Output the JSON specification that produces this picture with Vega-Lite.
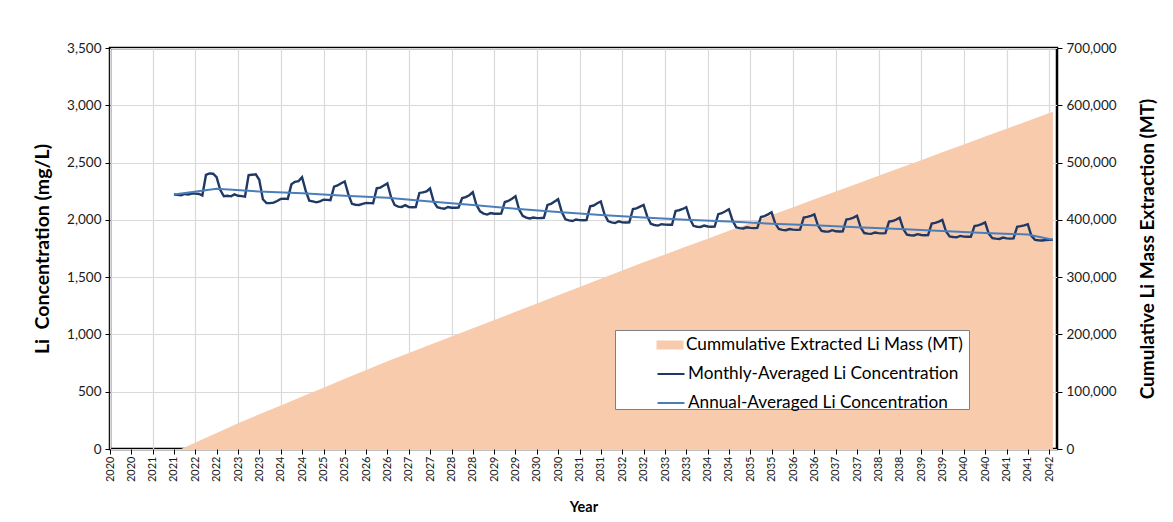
{
  "$schema": "https://vega.github.io/schema/vega-lite/v6.json",
  "width": 947,
  "height": 401,
  "autosize": {"type": "none"},
  "padding": {"left": 110, "top": 48, "right": 116, "bottom": 73},
  "background": "white",
  "datasets": {
    "cum": [
      {"date": "2020-01-01", "mass": 0}, {"date": "2021-09-01", "mass": 0},
      {"date": "2022-01-01", "mass": 11200}, {"date": "2022-07-01", "mass": 28000},
      {"date": "2023-01-01", "mass": 45000}, {"date": "2023-07-01", "mass": 60500},
      {"date": "2024-01-01", "mass": 76000}, {"date": "2024-07-01", "mass": 91500},
      {"date": "2025-01-01", "mass": 107000}, {"date": "2025-07-01", "mass": 122500},
      {"date": "2026-01-01", "mass": 138000}, {"date": "2026-07-01", "mass": 153000},
      {"date": "2027-01-01", "mass": 167500}, {"date": "2027-07-01", "mass": 181800},
      {"date": "2028-01-01", "mass": 196200}, {"date": "2028-07-01", "mass": 210600},
      {"date": "2029-01-01", "mass": 225000}, {"date": "2029-07-01", "mass": 239400},
      {"date": "2030-01-01", "mass": 253800}, {"date": "2030-07-01", "mass": 268200},
      {"date": "2031-01-01", "mass": 282600}, {"date": "2031-07-01", "mass": 297000},
      {"date": "2032-01-01", "mass": 311400}, {"date": "2032-07-01", "mass": 325800},
      {"date": "2033-01-01", "mass": 339500}, {"date": "2033-07-01", "mass": 353300},
      {"date": "2034-01-01", "mass": 367000}, {"date": "2034-07-01", "mass": 380800},
      {"date": "2035-01-01", "mass": 394500}, {"date": "2035-07-01", "mass": 408300},
      {"date": "2036-01-01", "mass": 422000}, {"date": "2036-07-01", "mass": 435800},
      {"date": "2037-01-01", "mass": 449500}, {"date": "2037-07-01", "mass": 463200},
      {"date": "2038-01-01", "mass": 476900}, {"date": "2038-07-01", "mass": 490600},
      {"date": "2039-01-01", "mass": 504200}, {"date": "2039-07-01", "mass": 517900},
      {"date": "2040-01-01", "mass": 531600}, {"date": "2040-07-01", "mass": 545300},
      {"date": "2041-01-01", "mass": 559000}, {"date": "2041-07-01", "mass": 572700},
      {"date": "2042-01-01", "mass": 586400}, {"date": "2042-02-01", "mass": 588700}
    ],
    "annual": [
      {"date": "2021-07-01", "conc": 2221}, {"date": "2022-07-01", "conc": 2271},
      {"date": "2023-07-01", "conc": 2247}, {"date": "2024-07-01", "conc": 2232},
      {"date": "2025-07-01", "conc": 2211}, {"date": "2026-07-01", "conc": 2192},
      {"date": "2027-07-01", "conc": 2160}, {"date": "2028-07-01", "conc": 2130},
      {"date": "2029-07-01", "conc": 2097}, {"date": "2030-07-01", "conc": 2068},
      {"date": "2031-07-01", "conc": 2043}, {"date": "2032-07-01", "conc": 2020},
      {"date": "2033-07-01", "conc": 2002}, {"date": "2034-07-01", "conc": 1985},
      {"date": "2035-07-01", "conc": 1966}, {"date": "2036-07-01", "conc": 1952},
      {"date": "2037-07-01", "conc": 1936}, {"date": "2038-07-01", "conc": 1920},
      {"date": "2039-07-01", "conc": 1903}, {"date": "2040-07-01", "conc": 1886},
      {"date": "2041-07-01", "conc": 1872}, {"date": "2042-02-01", "conc": 1826}
    ],
    "monthly": [
      {"date": "2021-07-01", "conc": 2221}, {"date": "2021-08-01", "conc": 2218}, {"date": "2021-09-01", "conc": 2215}, {"date": "2021-10-01", "conc": 2226}, {"date": "2021-11-01", "conc": 2221}, {"date": "2021-12-01", "conc": 2230},
      {"date": "2022-01-01", "conc": 2229}, {"date": "2022-02-01", "conc": 2226}, {"date": "2022-03-01", "conc": 2212}, {"date": "2022-04-01", "conc": 2392}, {"date": "2022-05-01", "conc": 2405}, {"date": "2022-06-01", "conc": 2403}, {"date": "2022-07-01", "conc": 2372}, {"date": "2022-08-01", "conc": 2262}, {"date": "2022-09-01", "conc": 2206}, {"date": "2022-10-01", "conc": 2210}, {"date": "2022-11-01", "conc": 2205}, {"date": "2022-12-01", "conc": 2222},
      {"date": "2023-01-01", "conc": 2210}, {"date": "2023-02-01", "conc": 2207}, {"date": "2023-03-01", "conc": 2203}, {"date": "2023-04-01", "conc": 2390}, {"date": "2023-05-01", "conc": 2394}, {"date": "2023-06-01", "conc": 2397}, {"date": "2023-07-01", "conc": 2350}, {"date": "2023-08-01", "conc": 2180}, {"date": "2023-09-01", "conc": 2147}, {"date": "2023-10-01", "conc": 2146}, {"date": "2023-11-01", "conc": 2150}, {"date": "2023-12-01", "conc": 2165},
      {"date": "2024-01-01", "conc": 2183}, {"date": "2024-02-01", "conc": 2185}, {"date": "2024-03-01", "conc": 2183}, {"date": "2024-04-01", "conc": 2310}, {"date": "2024-05-01", "conc": 2332}, {"date": "2024-06-01", "conc": 2338}, {"date": "2024-07-01", "conc": 2372}, {"date": "2024-08-01", "conc": 2255}, {"date": "2024-09-01", "conc": 2168}, {"date": "2024-10-01", "conc": 2162}, {"date": "2024-11-01", "conc": 2153}, {"date": "2024-12-01", "conc": 2162},
      {"date": "2025-01-01", "conc": 2176}, {"date": "2025-02-01", "conc": 2174}, {"date": "2025-03-01", "conc": 2172}, {"date": "2025-04-01", "conc": 2290}, {"date": "2025-05-01", "conc": 2300}, {"date": "2025-06-01", "conc": 2320}, {"date": "2025-07-01", "conc": 2335}, {"date": "2025-08-01", "conc": 2225}, {"date": "2025-09-01", "conc": 2140}, {"date": "2025-10-01", "conc": 2132}, {"date": "2025-11-01", "conc": 2130}, {"date": "2025-12-01", "conc": 2140},
      {"date": "2026-01-01", "conc": 2148}, {"date": "2026-02-01", "conc": 2146}, {"date": "2026-03-01", "conc": 2145}, {"date": "2026-04-01", "conc": 2275}, {"date": "2026-05-01", "conc": 2282}, {"date": "2026-06-01", "conc": 2300}, {"date": "2026-07-01", "conc": 2318}, {"date": "2026-08-01", "conc": 2200}, {"date": "2026-09-01", "conc": 2130}, {"date": "2026-10-01", "conc": 2115}, {"date": "2026-11-01", "conc": 2113}, {"date": "2026-12-01", "conc": 2128},
      {"date": "2027-01-01", "conc": 2112}, {"date": "2027-02-01", "conc": 2110}, {"date": "2027-03-01", "conc": 2112}, {"date": "2027-04-01", "conc": 2235}, {"date": "2027-05-01", "conc": 2240}, {"date": "2027-06-01", "conc": 2248}, {"date": "2027-07-01", "conc": 2274}, {"date": "2027-08-01", "conc": 2160}, {"date": "2027-09-01", "conc": 2110}, {"date": "2027-10-01", "conc": 2103}, {"date": "2027-11-01", "conc": 2097}, {"date": "2027-12-01", "conc": 2112},
      {"date": "2028-01-01", "conc": 2106}, {"date": "2028-02-01", "conc": 2106}, {"date": "2028-03-01", "conc": 2108}, {"date": "2028-04-01", "conc": 2190}, {"date": "2028-05-01", "conc": 2198}, {"date": "2028-06-01", "conc": 2215}, {"date": "2028-07-01", "conc": 2241}, {"date": "2028-08-01", "conc": 2130}, {"date": "2028-09-01", "conc": 2074}, {"date": "2028-10-01", "conc": 2055}, {"date": "2028-11-01", "conc": 2046}, {"date": "2028-12-01", "conc": 2059},
      {"date": "2029-01-01", "conc": 2053}, {"date": "2029-02-01", "conc": 2053}, {"date": "2029-03-01", "conc": 2055}, {"date": "2029-04-01", "conc": 2156}, {"date": "2029-05-01", "conc": 2165}, {"date": "2029-06-01", "conc": 2185}, {"date": "2029-07-01", "conc": 2206}, {"date": "2029-08-01", "conc": 2090}, {"date": "2029-09-01", "conc": 2035}, {"date": "2029-10-01", "conc": 2020}, {"date": "2029-11-01", "conc": 2012}, {"date": "2029-12-01", "conc": 2020},
      {"date": "2030-01-01", "conc": 2015}, {"date": "2030-02-01", "conc": 2016}, {"date": "2030-03-01", "conc": 2018}, {"date": "2030-04-01", "conc": 2130}, {"date": "2030-05-01", "conc": 2140}, {"date": "2030-06-01", "conc": 2160}, {"date": "2030-07-01", "conc": 2180}, {"date": "2030-08-01", "conc": 2070}, {"date": "2030-09-01", "conc": 2005}, {"date": "2030-10-01", "conc": 1995}, {"date": "2030-11-01", "conc": 1990}, {"date": "2030-12-01", "conc": 2003},
      {"date": "2031-01-01", "conc": 1998}, {"date": "2031-02-01", "conc": 1997}, {"date": "2031-03-01", "conc": 1998}, {"date": "2031-04-01", "conc": 2118}, {"date": "2031-05-01", "conc": 2125}, {"date": "2031-06-01", "conc": 2145}, {"date": "2031-07-01", "conc": 2160}, {"date": "2031-08-01", "conc": 2050}, {"date": "2031-09-01", "conc": 1990}, {"date": "2031-10-01", "conc": 1978}, {"date": "2031-11-01", "conc": 1972}, {"date": "2031-12-01", "conc": 1988},
      {"date": "2032-01-01", "conc": 1978}, {"date": "2032-02-01", "conc": 1977}, {"date": "2032-03-01", "conc": 1978}, {"date": "2032-04-01", "conc": 2095}, {"date": "2032-05-01", "conc": 2100}, {"date": "2032-06-01", "conc": 2115}, {"date": "2032-07-01", "conc": 2130}, {"date": "2032-08-01", "conc": 2030}, {"date": "2032-09-01", "conc": 1965}, {"date": "2032-10-01", "conc": 1955}, {"date": "2032-11-01", "conc": 1950}, {"date": "2032-12-01", "conc": 1962},
      {"date": "2033-01-01", "conc": 1958}, {"date": "2033-02-01", "conc": 1957}, {"date": "2033-03-01", "conc": 1957}, {"date": "2033-04-01", "conc": 2078}, {"date": "2033-05-01", "conc": 2084}, {"date": "2033-06-01", "conc": 2095}, {"date": "2033-07-01", "conc": 2110}, {"date": "2033-08-01", "conc": 2010}, {"date": "2033-09-01", "conc": 1948}, {"date": "2033-10-01", "conc": 1940}, {"date": "2033-11-01", "conc": 1938}, {"date": "2033-12-01", "conc": 1950},
      {"date": "2034-01-01", "conc": 1942}, {"date": "2034-02-01", "conc": 1940}, {"date": "2034-03-01", "conc": 1942}, {"date": "2034-04-01", "conc": 2050}, {"date": "2034-05-01", "conc": 2058}, {"date": "2034-06-01", "conc": 2075}, {"date": "2034-07-01", "conc": 2093}, {"date": "2034-08-01", "conc": 1995}, {"date": "2034-09-01", "conc": 1935}, {"date": "2034-10-01", "conc": 1928}, {"date": "2034-11-01", "conc": 1925}, {"date": "2034-12-01", "conc": 1935},
      {"date": "2035-01-01", "conc": 1930}, {"date": "2035-02-01", "conc": 1928}, {"date": "2035-03-01", "conc": 1930}, {"date": "2035-04-01", "conc": 2025}, {"date": "2035-05-01", "conc": 2032}, {"date": "2035-06-01", "conc": 2048}, {"date": "2035-07-01", "conc": 2066}, {"date": "2035-08-01", "conc": 1970}, {"date": "2035-09-01", "conc": 1920}, {"date": "2035-10-01", "conc": 1913}, {"date": "2035-11-01", "conc": 1910}, {"date": "2035-12-01", "conc": 1920},
      {"date": "2036-01-01", "conc": 1915}, {"date": "2036-02-01", "conc": 1913}, {"date": "2036-03-01", "conc": 1915}, {"date": "2036-04-01", "conc": 2020}, {"date": "2036-05-01", "conc": 2026}, {"date": "2036-06-01", "conc": 2035}, {"date": "2036-07-01", "conc": 2048}, {"date": "2036-08-01", "conc": 1950}, {"date": "2036-09-01", "conc": 1903}, {"date": "2036-10-01", "conc": 1898}, {"date": "2036-11-01", "conc": 1897}, {"date": "2036-12-01", "conc": 1910},
      {"date": "2037-01-01", "conc": 1900}, {"date": "2037-02-01", "conc": 1898}, {"date": "2037-03-01", "conc": 1900}, {"date": "2037-04-01", "conc": 2003}, {"date": "2037-05-01", "conc": 2008}, {"date": "2037-06-01", "conc": 2020}, {"date": "2037-07-01", "conc": 2036}, {"date": "2037-08-01", "conc": 1935}, {"date": "2037-09-01", "conc": 1885}, {"date": "2037-10-01", "conc": 1880}, {"date": "2037-11-01", "conc": 1878}, {"date": "2037-12-01", "conc": 1890},
      {"date": "2038-01-01", "conc": 1884}, {"date": "2038-02-01", "conc": 1882}, {"date": "2038-03-01", "conc": 1884}, {"date": "2038-04-01", "conc": 1985}, {"date": "2038-05-01", "conc": 1990}, {"date": "2038-06-01", "conc": 2002}, {"date": "2038-07-01", "conc": 2018}, {"date": "2038-08-01", "conc": 1920}, {"date": "2038-09-01", "conc": 1870}, {"date": "2038-10-01", "conc": 1866}, {"date": "2038-11-01", "conc": 1864}, {"date": "2038-12-01", "conc": 1875},
      {"date": "2039-01-01", "conc": 1868}, {"date": "2039-02-01", "conc": 1866}, {"date": "2039-03-01", "conc": 1867}, {"date": "2039-04-01", "conc": 1968}, {"date": "2039-05-01", "conc": 1974}, {"date": "2039-06-01", "conc": 1985}, {"date": "2039-07-01", "conc": 2000}, {"date": "2039-08-01", "conc": 1900}, {"date": "2039-09-01", "conc": 1855}, {"date": "2039-10-01", "conc": 1850}, {"date": "2039-11-01", "conc": 1848}, {"date": "2039-12-01", "conc": 1860},
      {"date": "2040-01-01", "conc": 1854}, {"date": "2040-02-01", "conc": 1852}, {"date": "2040-03-01", "conc": 1852}, {"date": "2040-04-01", "conc": 1946}, {"date": "2040-05-01", "conc": 1952}, {"date": "2040-06-01", "conc": 1963}, {"date": "2040-07-01", "conc": 1978}, {"date": "2040-08-01", "conc": 1880}, {"date": "2040-09-01", "conc": 1840}, {"date": "2040-10-01", "conc": 1836}, {"date": "2040-11-01", "conc": 1833}, {"date": "2040-12-01", "conc": 1845},
      {"date": "2041-01-01", "conc": 1838}, {"date": "2041-02-01", "conc": 1836}, {"date": "2041-03-01", "conc": 1838}, {"date": "2041-04-01", "conc": 1940}, {"date": "2041-05-01", "conc": 1945}, {"date": "2041-06-01", "conc": 1952}, {"date": "2041-07-01", "conc": 1962}, {"date": "2041-08-01", "conc": 1860}, {"date": "2041-09-01", "conc": 1825}, {"date": "2041-10-01", "conc": 1822}, {"date": "2041-11-01", "conc": 1820}, {"date": "2041-12-01", "conc": 1824},
      {"date": "2042-01-01", "conc": 1826}, {"date": "2042-02-01", "conc": 1825}
    ]
  },
  "encoding": {
    "x": {
      "field": "date",
      "type": "temporal",
      "scale": {"type": "utc", "domain": [{"year": 2020, "month": 1, "date": 1, "utc": true}, {"year": 2042, "month": 3, "date": 8, "utc": true}]},
      "axis": {
        "title": "Year",
        "format": "%Y",
        "tickCount": {"interval": "month", "step": 6},
        "labelAngle": 270,
        "labelOverlap": false,
        "labelFontSize": 11,
        "labelPadding": 2,
        "tickSize": 5,
        "grid": true,
        "gridOpacity": {"condition": {"test": "utcmonth(datum.value) === 0", "value": 1}, "value": 0},
        "titleFontSize": 14.5,
        "titleFontWeight": "bold",
        "titlePadding": 19
      }
    }
  },
  "layer": [
    {
      "data": {"name": "cum"},
      "mark": {"type": "area", "opacity": 1},
      "encoding": {
        "y": {
          "field": "mass",
          "type": "quantitative",
          "scale": {"domain": [0, 700000]},
          "axis": {
            "orient": "right",
            "title": "Cumulative Li Mass Extraction (MT)",
            "values": [0, 100000, 200000, 300000, 400000, 500000, 600000, 700000],
            "format": ",.0f",
            "grid": false,
            "labelFontSize": 13.5,
            "labelPadding": 4,
            "tickSize": 5,
            "titleFontSize": 19,
            "titleFontWeight": "bold",
            "titleAngle": 270,
            "titlePadding": 41
          }
        },
        "fill": {
          "datum": "Cummulative Extracted Li Mass (MT)",
          "scale": {"domain": ["Cummulative Extracted Li Mass (MT)"], "range": ["#F8CBAD"]},
          "legend": {
            "orient": "none", "legendX": 505, "legendY": 282,
            "title": " ", "titleOrient": "bottom", "titleFontSize": 17, "titlePadding": 34,
            "fillColor": "#ffffff", "strokeColor": "#7f7f7f", "padding": 6, "zindex": 1,
            "labelFont": "Lato", "labelFontSize": 17.2, "labelColor": "#000000", "labelLimit": 500,
            "symbolType": "M-1.5,-0.5H1.5V0.5H-1.5Z", "symbolSize": 324, "symbolStrokeWidth": 0,
            "symbolOffset": 40, "labelOffset": 7, "rowPadding": 10
          }
        }
      }
    },
    {
      "layer": [
        {
          "data": {"name": "monthly"},
          "mark": {"type": "line", "strokeWidth": 2.4},
          "encoding": {
            "y": {
              "field": "conc",
              "type": "quantitative",
              "scale": {"domain": [0, 3500]},
              "axis": {
                "orient": "left",
                "title": "Li\u00a0 Concentration (mg/L)",
                "values": [0, 500, 1000, 1500, 2000, 2500, 3000, 3500],
                "format": ",.0f",
                "grid": true,
                "labelFontSize": 13.5,
                "labelPadding": 4,
                "tickSize": 5,
                "titleFontSize": 19.5,
                "titleFontWeight": "bold",
                "titlePadding": 14
              }
            },
            "stroke": {
              "datum": "Monthly-Averaged Li Concentration",
              "scale": {"domain": ["Monthly-Averaged Li Concentration", "Annual-Averaged Li Concentration"], "range": ["#1F3864", "#4A7EBB"]},
              "legend": {
                "orient": "none", "legendX": 505, "legendY": 313,
                "title": null, "padding": 3, "zindex": 2,
                "labelFont": "Lato", "labelFontSize": 17.2, "labelColor": "#000000", "labelLimit": 500,
                "symbolType": "M-1.5,0H1.5", "symbolSize": 324, "symbolStrokeWidth": 2,
                "symbolOffset": 43, "labelOffset": 7, "rowPadding": 10
              }
            }
          }
        },
        {
          "data": {"name": "annual"},
          "mark": {"type": "line", "strokeWidth": 2},
          "encoding": {
            "y": {"field": "conc", "type": "quantitative"},
            "stroke": {"datum": "Annual-Averaged Li Concentration"}
          }
        }
      ]
    }
  ],
  "resolve": {"scale": {"y": "independent"}},
  "config": {
    "font": "Lato",
    "view": {"stroke": "#000000", "strokeWidth": 2.5},
    "axis": {
      "labelFont": "Lato",
      "titleFont": "Lato",
      "labelColor": "#1a1a1a",
      "titleColor": "#000000",
      "domain": false,
      "tickColor": "#000000",
      "gridColor": "#D9D9D9",
      "gridWidth": 1.2
    }
  }
}
